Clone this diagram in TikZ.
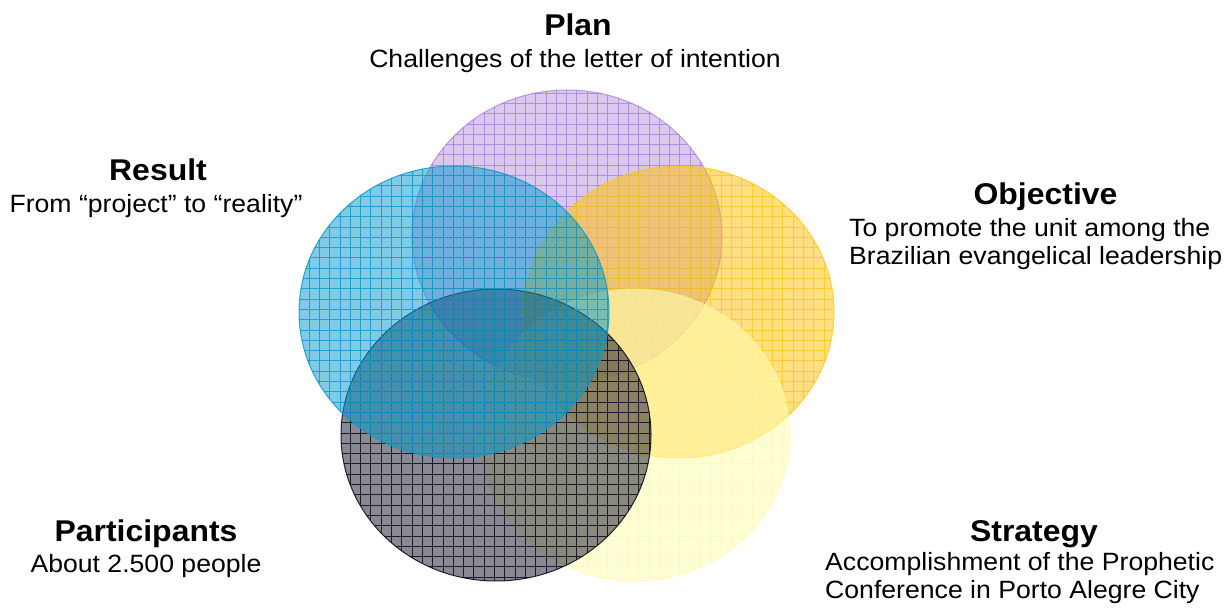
\documentclass[tikz,border=0pt]{standalone}
\usepackage{fontspec}
\setmainfont{Liberation Sans}[FakeStretch=1.065]
\begin{document}
\definecolor{planC}{RGB}{153,102,204}
\definecolor{planL}{RGB}{150,105,215}
\definecolor{resC}{RGB}{0,153,204}
\definecolor{resL}{RGB}{10,150,200}
\definecolor{objC}{RGB}{255,192,0}
\definecolor{objL}{RGB}{255,195,10}
\definecolor{strC}{RGB}{255,255,180}
\definecolor{strL}{RGB}{255,245,170}
\definecolor{parC}{RGB}{20,20,40}
\definecolor{parL}{RGB}{15,15,30}
\newcommand\vennblob[6]{%
  \fill[#3, fill opacity=#4] (#1,#2) ellipse [x radius=155, y radius=146];
  \begin{scope}
    \clip (#1,#2) ellipse [x radius=155, y radius=146];
    \draw[#5, opacity=#6, line width=0.7pt, xstep=10.3pt, ystep=10.3pt] (#1-160,#2-150) grid (#1+160,#2+150);
  \end{scope}
  \draw[#5, opacity=#6, line width=1pt] (#1,#2) ellipse [x radius=155, y radius=146];
}
\begin{tikzpicture}[x=1pt, y=1pt,
  ttl/.style={font=\fontsize{30}{36}\selectfont\bfseries, inner sep=0pt, anchor=base},
  sub/.style={font=\fontsize{25}{28}\selectfont, inner sep=0pt, anchor=base}]
\useasboundingbox (0,0) rectangle (1226,608);
\fill[white] (0,0) rectangle (1226,608);
% circles
\vennblob{567}{372}{planC}{0.35}{planL}{0.6}
\vennblob{679}{296}{objC}{0.5}{objL}{0.65}
\vennblob{635}{173}{strC}{0.55}{strL}{0.5}
\vennblob{496}{173}{parC}{0.5}{parL}{0.9}
\vennblob{454}{296}{resC}{0.5}{resL}{0.8}
% labels
\node[ttl] (planT) at (578,572) {Plan};
\node[sub] (planS) at (575,540) {Challenges of the letter of intention};
\node[ttl] (resT) at (158,427) {Result};
\node[sub] (resS) at (156,395) {From “project” to “reality”};
\node[ttl] (objT) at (1045.5,403) {Objective};
\node[sub, anchor=base west] (objS1) at (849,371) {To promote the unit among the};
\node[sub, anchor=base west] (objS2) at (849,343) {Brazilian evangelical leadership};
\node[ttl] (strT) at (1034,67) {Strategy};
\node[sub, anchor=base west] (strS1) at (825,38) {Accomplishment of the Prophetic};
\node[sub, anchor=base west] (strS2) at (825,10) {Conference in Porto Alegre City};
\node[ttl] (parT) at (146,67) {Participants};
\node[sub] (parS) at (146,36) {About 2.500 people};
\end{tikzpicture}
\end{document}
